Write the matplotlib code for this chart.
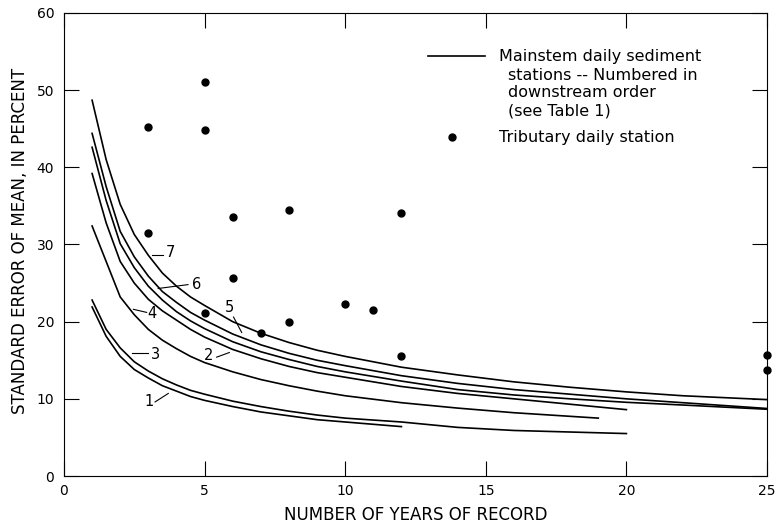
import matplotlib
matplotlib.use("Agg")
import matplotlib.pyplot as plt

plt.rcParams["font.family"] = ["DejaVu Sans"]

# Curvas de estaciones principales (numeradas aguas abajo)
anios_25 = [1, 1.5, 2, 2.5, 3, 3.5, 4, 4.5, 5, 6, 7, 8, 9, 10, 12, 14, 16, 18, 20, 22, 25]
anios_20 = [1, 1.5, 2, 2.5, 3, 3.5, 4, 4.5, 5, 6, 7, 8, 9, 10, 12, 14, 16, 18, 20]
anios_19 = [1, 2, 2.5, 3, 3.5, 4, 4.5, 5, 6, 7, 8, 9, 10, 12, 14, 16, 19]
anios_12 = [1, 1.5, 2, 2.5, 3, 3.5, 4, 4.5, 5, 6, 7, 8, 9, 10, 12]

estacion_7 = [48.7, 41.0, 35.2, 31.3, 28.6, 26.3, 24.6, 23.2, 22.1, 20.0, 18.5, 17.3, 16.3, 15.5,
              14.1, 13.1, 12.2, 11.5, 10.9, 10.4, 9.9]
estacion_6 = [44.4, 37.5, 31.7, 28.4, 25.9, 23.9, 22.5, 21.2, 20.2, 18.4, 17.0, 15.9, 15.0, 14.3,
              13.0, 12.0, 11.2, 10.6, 10.0, 9.5, 8.75]
estacion_5 = [42.6, 35.7, 30.1, 27.0, 24.6, 22.8, 21.3, 20.1, 19.1, 17.4, 16.1, 15.1, 14.2, 13.5,
              12.3, 11.2, 10.5, 10.0, 9.55, 9.2, 8.65]
estacion_2 = [39.2, 32.8, 27.8, 25.0, 22.9, 21.4, 20.2, 19.0, 18.0, 16.4, 15.2, 14.2, 13.4, 12.8,
              11.6, 10.7, 10.0, 9.3, 8.6]
estacion_4 = [32.4, 23.2, 20.9, 19.0, 17.6, 16.5, 15.5, 14.7, 13.5, 12.5, 11.7, 11.0, 10.4,
              9.5, 8.8, 8.2, 7.5]
estacion_3 = [22.8, 19.0, 16.6, 14.8, 13.6, 12.6, 11.8, 11.1, 10.6, 9.7, 9.0, 8.4, 7.9, 7.5,
              7.0, 6.3, 5.9, 5.7, 5.5]
estacion_1 = [21.9, 18.1, 15.5, 13.8, 12.7, 11.7, 11.0, 10.3, 9.8, 9.0, 8.3, 7.8, 7.3, 7.0, 6.4]

curvas = [
    (anios_25, estacion_7),
    (anios_25, estacion_6),
    (anios_25, estacion_5),
    (anios_20, estacion_2),
    (anios_19, estacion_4),
    (anios_20, estacion_3),
    (anios_12, estacion_1),
]

# Estaciones tributarias
trib_anios = [3, 3, 5, 5, 5, 6, 6, 7, 8, 8, 10, 11, 12, 12, 25, 25]
trib_error = [45.2, 31.5, 51.0, 44.9, 21.1, 33.5, 25.6, 18.5, 34.5, 20.0, 22.3, 21.5, 34.1, 15.5, 15.7, 13.8]

# Etiquetas de curvas: texto, posicion del texto, linea guia
etiquetas = ["7", "6", "5", "4", "3", "1", "2"]
pos_texto = [(3.77, 28.9), (4.70, 24.8), (5.88, 21.8), (3.12, 21.1),
             (3.27, 15.7), (3.02, 9.7), (5.14, 15.6)]
guias = [((3.12, 3.53), (28.7, 28.7)), ((3.35, 4.41), (24.3, 24.8)),
         ((6.03, 6.32), (20.6, 18.6)), ((2.47, 2.94), (21.6, 21.2)),
         ((2.41, 3.0), (15.9, 15.9)), ((3.24, 3.71), (9.6, 10.7)),
         ((5.43, 5.88), (15.4, 16.0))]

fig = plt.figure(figsize=(7.84, 5.24), dpi=100)
ax = fig.add_axes([0.0816, 0.0916, 0.8967, 0.8836])

for x, y in curvas:
    ax.plot(x, y, color="black", linewidth=1.2)

ax.plot(trib_anios, trib_error, "o", color="black", markersize=5, clip_on=False, zorder=5)

for txt, (tx, ty), (gx, gy) in zip(etiquetas, pos_texto, guias):
    ax.plot(gx, gy, color="black", linewidth=0.8)
    ax.text(tx, ty, txt, fontsize=10.5, ha="center", va="center")

# Leyenda manual
ax.plot([0.518, 0.599], [0.907, 0.907], color="black", linewidth=1.2,
        transform=ax.transAxes, clip_on=False)
lineas_leyenda = [("Mainstem daily sediment", 0.619, 0.907),
                  ("stations -- Numbered in", 0.631, 0.866),
                  ("downstream order", 0.631, 0.828),
                  ("(see Table 1)", 0.631, 0.789)]
for txt, lx, ly in lineas_leyenda:
    ax.text(lx, ly, txt, transform=ax.transAxes, fontsize=11.5, ha="left", va="center")
ax.plot(0.552, 0.732, "o", color="black", markersize=5, transform=ax.transAxes)
ax.text(0.619, 0.732, "Tributary daily station", transform=ax.transAxes,
        fontsize=11.5, ha="left", va="center")

ax.set_xlim(0, 25)
ax.set_ylim(0, 60)
ax.set_xticks([0, 5, 10, 15, 20, 25])
ax.set_yticks([0, 10, 20, 30, 40, 50, 60])
ax.tick_params(direction="in", length=11, width=0.8, top=True, right=True,
               labelsize=10)
ax.tick_params(axis="x", pad=6)
ax.tick_params(axis="y", pad=7)
for s in ax.spines.values():
    s.set_linewidth(0.8)

fig.text(0.53, 0.017, "NUMBER OF YEARS OF RECORD", fontsize=12, ha="center", va="center")
fig.text(0.0255, 0.540, "STANDARD ERROR OF MEAN, IN PERCENT", fontsize=12,
         rotation=90, ha="center", va="center")

fig.savefig("out.png", dpi=100)
